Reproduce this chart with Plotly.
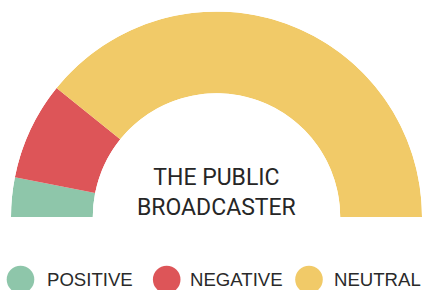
import plotly.graph_objects as go

# ---- data ----
labels = ["POSITIVE", "NEGATIVE", "NEUTRAL"]
values = [6.2, 15.4, 78.4]          # share of coverage, %
colors = ["#8EC6AA", "#DD5558", "#F1CA68"]
center_title = ["THE PUBLIC", "BROADCASTER"]

# ---- layout constants (pixels) ----
W, H = 424, 290
legend_marker_x = [20.5, 166.7, 309]
legend_text_x = [44.5, 188, 332]
legend_y = 279.5

total = sum(values)
spans = [v / total * 180 for v in values]
starts = [sum(spans[:i]) for i in range(len(spans))]
centers = [s + w / 2 for s, w in zip(starts, spans)]

fig = go.Figure()
fig.add_trace(go.Barpolar(
    r=[1] * len(values), theta=centers, width=spans,
    marker=dict(color=colors, line=dict(width=0)),
    text=labels, hoverinfo="text", showlegend=False,
))

# legend markers on a hidden pixel-scaled cartesian overlay
fig.add_trace(go.Scatter(
    x=legend_marker_x, y=[legend_y] * 3, mode="markers",
    marker=dict(size=27.6, color=colors, line=dict(width=0)),
    hoverinfo="skip", showlegend=False, xaxis="x", yaxis="y",
))
for tx, lab in zip(legend_text_x, labels):
    fig.add_annotation(x=tx, y=legend_y, xref="x", yref="y", text=lab,
                       showarrow=False, xanchor="left", yanchor="middle",
                       font=dict(family="Liberation Sans", size=18.6, color="#2a2a2a"))

fig.add_annotation(x=216.5, y=192, xref="x", yref="y",
                   text="<br>".join(center_title), showarrow=False,
                   xanchor="center", yanchor="middle",
                   font=dict(family="Roboto", size=23, color="#262626"))

fig.update_layout(
    width=W, height=H, margin=dict(l=0, r=0, t=0, b=0),
    paper_bgcolor="white", plot_bgcolor="rgba(0,0,0,0)",
    polar=dict(
        domain=dict(x=[10.5 / W, 422.5 / W], y=[(H - 217) / H, (H - 11.5) / H]),
        sector=[0, 180], hole=0.602, bgcolor="rgba(0,0,0,0)",
        radialaxis=dict(range=[0, 1], visible=False, showgrid=False),
        angularaxis=dict(rotation=180, direction="clockwise", visible=False,
                         showgrid=False, showline=False),
        bargap=0,
    ),
    xaxis=dict(range=[0, W], visible=False, fixedrange=True, domain=[0, 1]),
    yaxis=dict(range=[H, 0], visible=False, fixedrange=True, domain=[0, 1]),
    showlegend=False,
)

fig.write_html("out.html", post_script="document.body.style.margin='0';",
               config={"displayModeBar": False})
